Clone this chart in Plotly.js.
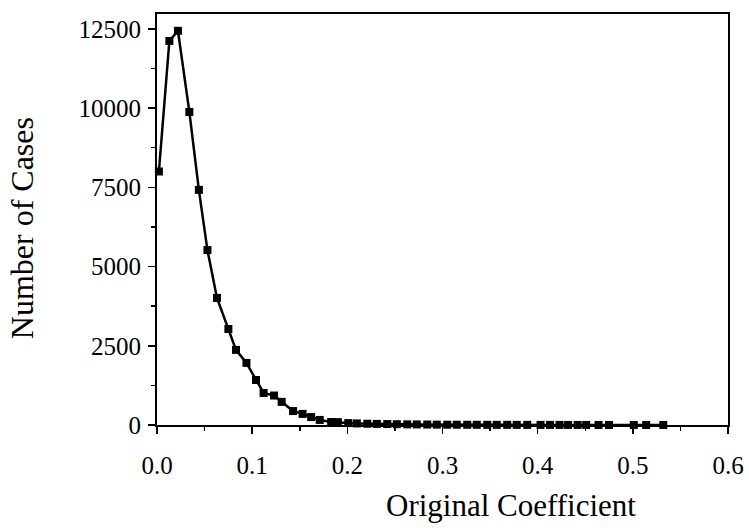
<!DOCTYPE html>
<html>
<head>
<meta charset="utf-8">
<script src="https://cdn.plot.ly/plotly-3.0.1.min.js"></script>
<style>
html,body{margin:0;padding:0;background:#fff;}
#chart{width:749px;height:528px;}
</style>
</head>
<body>
<div id="chart"></div>
<script>
// Original coefficient (bin positions) and number of cases
const coefficient = [
  0.002, 0.013, 0.022, 0.034, 0.044, 0.053, 0.063, 0.075, 0.083, 0.094,
  0.104, 0.112, 0.123, 0.131, 0.143, 0.153, 0.162, 0.171, 0.183, 0.190,
  0.201, 0.210, 0.221, 0.231, 0.242, 0.252, 0.263, 0.273, 0.284, 0.294,
  0.305, 0.315, 0.326, 0.336, 0.347, 0.357, 0.368, 0.378, 0.389, 0.403,
  0.413, 0.423, 0.432, 0.442, 0.451, 0.464, 0.475, 0.501, 0.514, 0.532
];
const cases = [
  8000, 12120, 12440, 9880, 7420, 5520, 4010, 3030, 2370, 1960,
  1420, 1010, 930, 730, 440, 350, 250, 160, 95, 90,
  60, 50, 40, 35, 30, 25, 20, 18, 15, 12,
  10, 9, 8, 7, 6, 5, 5, 4, 4, 3,
  3, 3, 2, 2, 2, 2, 1, 1, 1, 1
];
const xTickVals = [0, 0.1, 0.2, 0.3, 0.4, 0.5, 0.6];
const xTickText = ['0.0', '0.1', '0.2', '0.3', '0.4', '0.5', '0.6'];
const yTickVals = [0, 2500, 5000, 7500, 10000, 12500];
const yTickText = ['0', '2500', '5000', '7500', '10000', '12500'];
const xTitle = 'Original Coefficient';
const yTitle = 'Number of Cases';

const serif = 'Liberation Serif, Times New Roman, serif';

Plotly.newPlot('chart', [{
  x: coefficient,
  y: cases,
  type: 'scatter',
  mode: 'lines+markers',
  line: {color: '#000', width: 2.5},
  marker: {symbol: 'square', size: 8, color: '#000'},
  cliponaxis: false,
  hoverinfo: 'skip'
}], {
  width: 749, height: 528,
  margin: {l: 157, r: 21, t: 14, b: 103},
  paper_bgcolor: '#fff', plot_bgcolor: '#fff',
  showlegend: false,
  font: {family: serif, color: '#000'},
  xaxis: {
    range: [0, 0.6],
    tickvals: xTickVals, ticktext: xTickText,
    ticks: 'outside', ticklen: 7, tickwidth: 1.5, tickcolor: '#000',
    minor: {dtick: 0.05, tick0: 0, ticks: 'outside', ticklen: 4, tickwidth: 1.5, tickcolor: '#000', showgrid: false},
    showgrid: false, zeroline: false,
    showline: true, linecolor: '#000', linewidth: 2, mirror: true,
    tickfont: {family: serif, size: 25, color: '#000'},
    ticklabelstandoff: 10
  },
  yaxis: {
    range: [0, 12970],
    tickvals: yTickVals, ticktext: yTickText,
    ticks: 'outside', ticklen: 7, tickwidth: 1.5, tickcolor: '#000',
    minor: {dtick: 1250, tick0: 0, ticks: 'outside', ticklen: 4, tickwidth: 1.5, tickcolor: '#000', showgrid: false},
    showgrid: false, zeroline: false,
    showline: true, linecolor: '#000', linewidth: 2, mirror: true,
    tickfont: {family: serif, size: 25, color: '#000'},
    ticklabelstandoff: 2
  },
  annotations: [{
    text: xTitle, xref: 'paper', yref: 'paper', x: 0.62, y: -0.195,
    xanchor: 'center', yanchor: 'middle', showarrow: false,
    font: {family: serif, size: 31, color: '#000'}
  }, {
    text: yTitle, xref: 'paper', yref: 'paper', x: -0.237, y: 0.478,
    xanchor: 'center', yanchor: 'middle', textangle: -90, showarrow: false,
    font: {family: serif, size: 32, color: '#000'}
  }]
}, {displayModeBar: false, staticPlot: true});
</script>
</body>
</html>
